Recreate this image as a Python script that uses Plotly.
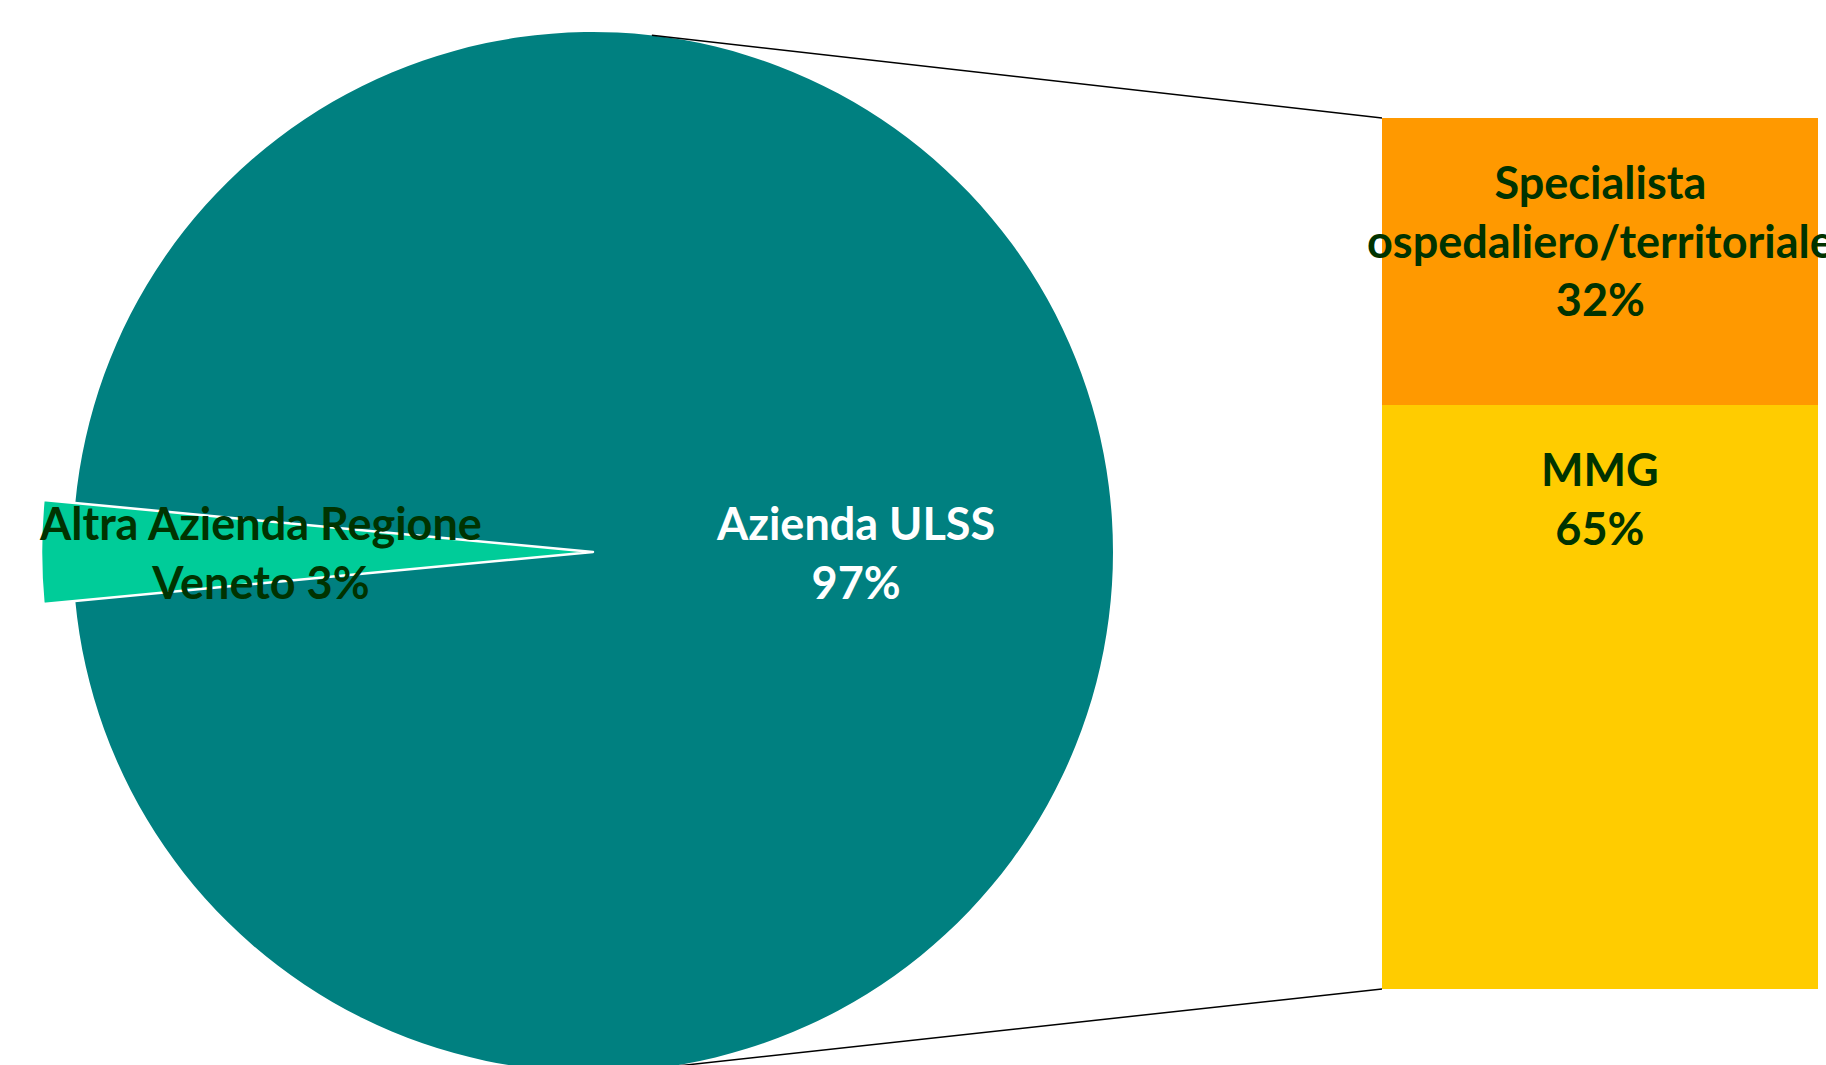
import math
import plotly.graph_objects as go

W, H = 1826, 1065          # visible window
HF = 1110                  # figure height (pie runs slightly below the window)

# ---- data ----
pie_labels = ["Altra Azienda Regione Veneto", "Azienda ULSS"]
pie_values = [3, 97]
pie_texts = ["Altra Azienda Regione<br>Veneto 3%", "Azienda ULSS<br>97%"]
pie_colors = ["#00CC99", "#008080"]
pie_text_colors = ["#003300", "#FFFFFF"]

bar_labels = ["MMG", "Specialista ospedaliero/territoriale"]
bar_values = [65, 32]
bar_texts = ["MMG<br>65%", "Specialista<br>ospedaliero/territoriale<br>32%"]
bar_colors = ["#FFCC00", "#FF9900"]

# ---- layout geometry (pixels) ----
cx, cy, R = 593, 552, 520      # main pie
R_small = 552                  # radius of the highlighted small slice
bx0, bx1, by0, by1 = 1382, 1818, 118, 989
FONT = "Lato"
FS = 45
TRANSP = "rgba(0,0,0,0)"

def px(x):
    return x / W

def py(y):
    return 1 - y / HF

fig = go.Figure()

share = pie_values[0] / sum(pie_values)
rot = 270 - 360 * share / 2

# main pie (large slice)
fig.add_trace(go.Pie(
    labels=pie_labels, values=pie_values, sort=False,
    direction="clockwise", rotation=rot,
    marker=dict(colors=[TRANSP, pie_colors[1]], line=dict(color="white", width=0)),
    textinfo="none", hoverinfo="label+percent", showlegend=False,
    domain=dict(x=[px(cx - R), px(cx + R)], y=[py(cy + R), py(cy - R)]),
))
# small slice drawn with a slightly larger radius
fig.add_trace(go.Pie(
    labels=pie_labels, values=pie_values, sort=False,
    direction="clockwise", rotation=rot,
    marker=dict(colors=[pie_colors[0], TRANSP], line=dict(color="white", width=[2.5, 0])),
    textinfo="none", hoverinfo="label+percent", showlegend=False,
    domain=dict(x=[px(cx - R_small), px(cx + R_small)], y=[py(cy + R_small), py(cy - R_small)]),
))

total = sum(bar_values)
for lab, val, col in zip(bar_labels, bar_values, bar_colors):
    fig.add_trace(go.Bar(
        x=[0], y=[val], name=lab, marker=dict(color=col, line=dict(width=0)),
        width=1, showlegend=False, xaxis="x", yaxis="y",
    ))

fig.update_layout(
    width=W, height=HF, margin=dict(l=0, r=0, t=0, b=0),
    paper_bgcolor="white", plot_bgcolor="rgba(0,0,0,0)",
    barmode="stack", bargap=0,
    xaxis=dict(domain=[px(bx0), px(bx1)], range=[-0.5, 0.5], visible=False, fixedrange=True),
    yaxis=dict(domain=[py(by1), py(by0)], range=[0, total], visible=False, fixedrange=True),
    showlegend=False,
)

# connectors
ang = math.radians(6.5)
top_pt = (cx + R * math.sin(ang), cy - R * math.cos(ang))
bot_pt = (cx + R * math.sin(ang), cy + R * math.cos(ang))
for (x0, y0), (x1, y1) in [(top_pt, (bx0, by0)), (bot_pt, (bx0, by1))]:
    fig.add_shape(type="line", xref="paper", yref="paper",
                  x0=px(x0), y0=py(y0), x1=px(x1), y1=py(y1),
                  line=dict(color="black", width=1.5))

# pie labels
pie_label_pos = [(-0.64, 0.0), (0.504, 0.0)]
for t, c, (fx, fy) in zip(pie_texts, pie_text_colors, pie_label_pos):
    fig.add_annotation(text=t, xref="paper", yref="paper",
                       x=px(cx + fx * R), y=py(cy + fy * R), showarrow=False,
                       xanchor="center", yanchor="middle", align="center",
                       font=dict(family=FONT, size=FS, color=c, weight="bold"))

# bar labels (placed near the top of each segment)
cum = 0
tops = []
for v in bar_values:
    cum += v
    tops.append(cum)
bar_label_shift = [-35, -35]
for t, top, sh in zip(bar_texts, tops, bar_label_shift):
    fig.add_annotation(text=t, xref="x", yref="y", x=0, y=top, yshift=sh,
                       showarrow=False, xanchor="center", yanchor="top", align="center",
                       font=dict(family=FONT, size=FS, color="#003300", weight="bold"))

fig.write_html("out.html",
               config={"displayModeBar": False},
               post_script="document.body.style.margin='0';"
                           "document.documentElement.style.overflow='hidden';"
                           "document.body.style.overflow='hidden';")
